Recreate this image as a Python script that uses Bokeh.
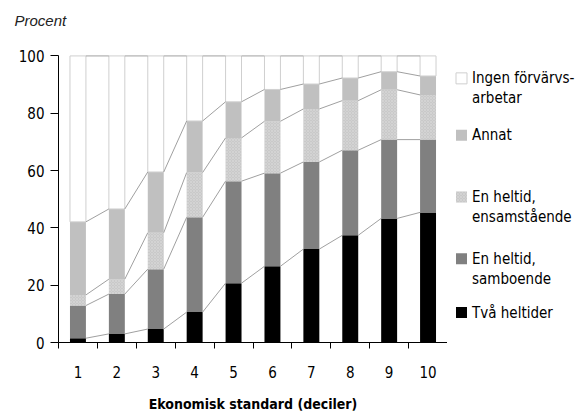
import numpy as np
from bokeh.plotting import figure
from bokeh.layouts import row
from bokeh.models import Range1d, FixedTicker, Label
from bokeh.embed import file_html
from bokeh.resources import INLINE

# ---- data (percent of persons per decile) ----
deciles = [1, 2, 3, 4, 5, 6, 7, 8, 9, 10]
tva_heltider = [1.5, 3.0, 4.7, 10.6, 20.7, 26.6, 32.6, 37.4, 43.3, 45.4]
en_heltid_sambo = [11.4, 13.9, 20.9, 33.1, 35.6, 32.5, 30.4, 29.7, 27.5, 25.4]
en_heltid_ensam = [3.7, 5.2, 12.7, 15.6, 15.1, 18.1, 18.5, 17.3, 17.4, 15.6]
annat = [25.5, 24.5, 21.2, 18.0, 12.6, 11.1, 8.7, 7.9, 6.3, 6.6]
ingen = [57.9, 53.4, 40.5, 22.7, 16.0, 11.7, 9.8, 7.7, 5.5, 7.0]
y_ticks = [0, 20, 40, 60, 80, 100]

series_vals = [tva_heltider, en_heltid_sambo, en_heltid_ensam, annat, ingen]
legend_lines = [["Ingen förvärvs-", "arbetar"], ["Annat"], ["En heltid,", "ensamstående"],
                ["En heltid,", "samboende"], ["Två heltider"]]

FONT = "DejaVu Sans Condensed"

# layout (pixels)
H = 414
CHART_W = 447
LEG_W = 575 - CHART_W
FL = 58          # frame left
FT = 36          # frame top (room for the "Procent" title inside the top border)
Y100 = 55.5      # pixel row of value 100
FB = 343         # frame bottom (value 0)
YU = (FB - Y100) / 100.0

p = figure(width=CHART_W, height=H, output_backend="svg", toolbar_location=None,
           x_range=Range1d(0.5, 10.5), y_range=Range1d(0, 100 + (Y100 - FT) / YU),
           min_border_left=FL, min_border_right=0, min_border_top=FT,
           min_border_bottom=H - FB)
p.outline_line_color = None
p.grid.visible = False

x = np.array(deciles, dtype=float)
BW = 0.41
styles = [
    dict(fill_color="#000000", line_color=None),
    dict(fill_color="#808080", line_color=None),
    dict(fill_color="#c9c9c9", line_color=None, hatch_pattern="diagonal_cross",
         hatch_color="#dddddd", hatch_scale=3, hatch_weight=0.5),
    dict(fill_color="#c0c0c0", line_color=None),
    dict(fill_color="#ffffff", line_color="#cfcfcf", line_width=1),
]

bottom = np.zeros(len(deciles))
tops = []
for vals, st in zip(series_vals, styles):
    v = np.array(vals, dtype=float)
    top = bottom + v
    p.vbar(x=x, width=BW, bottom=bottom, top=top, **st)
    tops.append(top)
    bottom = top

# series lines connecting bar tops
for top in tops:
    p.segment(x0=x[:-1] + BW / 2, y0=top[:-1], x1=x[1:] - BW / 2, y1=top[1:],
              line_color="#a0a0a0", line_width=1)

# axes
xa = p.xaxis[0]
xa.ticker = FixedTicker(ticks=deciles,
                        minor_ticks=[d - 0.5 for d in deciles] + [deciles[-1] + 0.5])
xa.major_tick_out = 0
xa.major_tick_in = 0
xa.minor_tick_out = 6
xa.minor_tick_in = 0
xa.minor_tick_line_color = "black"
xa.axis_line_color = "black"
xa.major_label_standoff = 17
xa.major_label_text_font = FONT
xa.major_label_text_font_size = "15px"
xa.major_label_text_color = "black"
xa.axis_label = "Ekonomisk standard (deciler)"
xa.axis_label_text_font = FONT
xa.axis_label_text_font_style = "bold"
xa.axis_label_text_font_size = "14px"
xa.axis_label_text_color = "black"
xa.axis_label_standoff = 15

ya = p.yaxis[0]
ya.ticker = FixedTicker(ticks=y_ticks)
ya.bounds = (0, 100)
ya.major_tick_out = 8
ya.major_tick_in = 0
ya.minor_tick_out = 0
ya.minor_tick_in = 0
ya.axis_line_color = "black"
ya.major_tick_line_color = "black"
ya.major_label_standoff = 6
ya.major_label_text_font = FONT
ya.major_label_text_font_size = "15px"
ya.major_label_text_color = "black"

p.title.text = "Procent"
p.title.align = "left"
p.title.offset = 14 - FL
p.title.text_font = "Liberation Sans"
p.title.text_font_style = "italic"
p.title.text_font_size = "15px"
p.title.text_color = "#222222"
p.title.standoff = 16

# legend figure: data coordinates equal picture pixel positions (y downwards);
# its frame is aligned with the chart frame by the row layout
lg = figure(width=LEG_W, height=H, output_backend="svg", toolbar_location=None,
            x_range=Range1d(0, LEG_W), y_range=Range1d(FB, FT),
            min_border=0, min_border_left=0, min_border_right=0,
            min_border_top=FT, min_border_bottom=H - FB)
lg.axis.visible = False
lg.grid.visible = False
lg.outline_line_color = None

leg_rows = [78, 135, 197, 259, 313]
leg_styles = [styles[4], styles[3], styles[2], styles[1], styles[0]]
SW_X = 461 - CHART_W
TX_X = 471.5 - CHART_W
for fy, lines, st in zip(leg_rows, legend_lines, leg_styles):
    lg.scatter(x=[SW_X], y=[fy], marker="square", size=11, **st)
    for i, t in enumerate(lines):
        lg.add_layout(Label(x=TX_X, y=fy + 20 * i, text=t, text_font=FONT,
                            text_font_size="15px", text_color="black",
                            text_baseline="middle", text_align="left"))

layout = row(p, lg, spacing=0)
open("out.html", "w").write(file_html(layout, INLINE))
